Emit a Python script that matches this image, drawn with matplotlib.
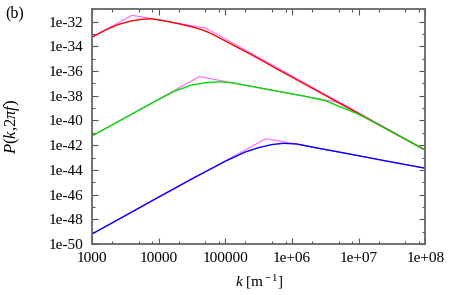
import numpy as np
import matplotlib
matplotlib.use("Agg")
import matplotlib.pyplot as plt
from matplotlib.ticker import FixedLocator, FuncFormatter, NullFormatter

# values, stored as log10(k) and log10(P)
red_logk = [3.0, 3.2, 3.4, 3.6, 3.75, 3.9, 4.1, 4.3, 4.5, 4.6, 4.7, 4.8, 4.9, 5.1, 5.4, 5.8, 6.5, 7.2, 8.0]
red_logp = [-33.26, -32.68, -32.22, -31.93, -31.81, -31.77, -31.95, -32.17, -32.42, -32.57,
            -32.76, -33.0, -33.28, -33.85, -34.7, -35.9, -37.97, -40.05, -42.4]

green_logk = [3.0, 3.5, 4.0, 4.25, 4.5, 4.7, 4.9, 5.1, 5.4, 5.8, 6.2, 6.5, 6.75, 7.0, 7.2, 8.0]
green_logp = [-41.26, -39.77, -38.3, -37.6, -37.12, -36.95, -36.87, -36.95, -37.25, -37.65,
              -38.05, -38.4, -38.95, -39.5, -40.05, -42.4]

blue_logk = [3.0, 3.5, 4.0, 4.5, 5.0, 5.3, 5.5, 5.7, 5.87, 6.07, 6.4, 6.86, 7.4, 8.0]
blue_logp = [-49.19, -47.7, -46.2, -44.72, -43.3, -42.55, -42.2, -41.95, -41.85, -41.9,
             -42.25, -42.71, -43.27, -43.87]

# asymptotic (broken line) approximations in magenta
asym_red_logk = [3.0, 3.6, 4.71, 8.0]
asym_red_logp = [-33.26, -31.48, -32.53, -42.4]
asym_green_logk = [3.0, 4.61, 6.72, 8.0]
asym_green_logp = [-41.26, -36.45, -38.56, -42.4]
asym_blue_logk = [3.0, 5.61, 8.0]
asym_blue_logp = [-49.19, -41.47, -43.86]

xticks = [1e3, 1e4, 1e5, 1e6, 1e7, 1e8]
xtick_labels = ["1000", "10000", "100000", "1e+06", "1e+07", "1e+08"]
yticks_exp = list(range(-50, -31, 2))

plt.rcParams["font.family"] = ["Liberation Serif", "DejaVu Serif"]
plt.rcParams["mathtext.fontset"] = "custom"
plt.rcParams["mathtext.rm"] = "Liberation Serif"
plt.rcParams["mathtext.it"] = "Liberation Serif:italic"

fig = plt.figure(figsize=(4.52, 2.95), dpi=100)
ax = fig.add_axes([0.2035, 0.1729, 0.7375, 0.7956])

def p(v):
    return 10.0 ** np.array(v)

for lk, lp in [(asym_red_logk, asym_red_logp),
               (asym_green_logk, asym_green_logp),
               (asym_blue_logk, asym_blue_logp)]:
    ax.plot(p(lk), p(lp), color="#ff00ff", lw=0.8, alpha=0.6)

ax.plot(p(red_logk), p(red_logp), color="#ff0000", lw=1.0)
ax.plot(p(green_logk), p(green_logp), color="#00dd00", lw=1.0)
ax.plot(p(blue_logk), p(blue_logp), color="#0000ff", lw=1.0)

ax.set_xscale("log")
ax.set_yscale("log")
ax.set_xlim(1e3, 1e8)
ax.set_ylim(1e-50, 1e-31)

ax.xaxis.set_major_locator(FixedLocator(xticks))
ax.xaxis.set_major_formatter(FuncFormatter(lambda v, pos: xtick_labels[pos] if pos is not None and pos < len(xtick_labels) else ""))
minor_x = [m * 10.0 ** e for e in range(3, 8) for m in (2, 5, 8)]
ax.xaxis.set_minor_locator(FixedLocator(minor_x))
ax.xaxis.set_minor_formatter(NullFormatter())

ax.yaxis.set_major_locator(FixedLocator([10.0 ** e for e in yticks_exp]))
ax.yaxis.set_major_formatter(FuncFormatter(lambda v, pos: "1e%d" % round(np.log10(v))))
ax.yaxis.set_minor_locator(FixedLocator([10.0 ** e for e in range(-49, -30, 2)]))
ax.yaxis.set_minor_formatter(NullFormatter())

ax.tick_params(which="both", direction="in", top=True, right=True, labelsize=11,
               color="#555555")
ax.tick_params(axis="y", pad=6)
ax.tick_params(axis="x", pad=6)
ax.tick_params(which="major", length=4, width=0.8)
ax.tick_params(which="minor", length=2, width=0.8)
for s in ax.spines.values():
    s.set_color("#666666")
    s.set_linewidth(1.3)

ax.set_xlabel(r"$k$ [m$^{\rm -1}$]", fontsize=11, va="center")
ax.xaxis.set_label_coords(0.5, -0.162)
ax.set_ylabel(r"$P$($k$,2$\pi$$f$)", fontsize=12, va="center")
ax.yaxis.set_label_coords(-0.24, 0.5)
fig.text(0.012, 0.955, "(b)", fontsize=11.5, ha="left", va="center")

plt.savefig("out.png", dpi=100)
